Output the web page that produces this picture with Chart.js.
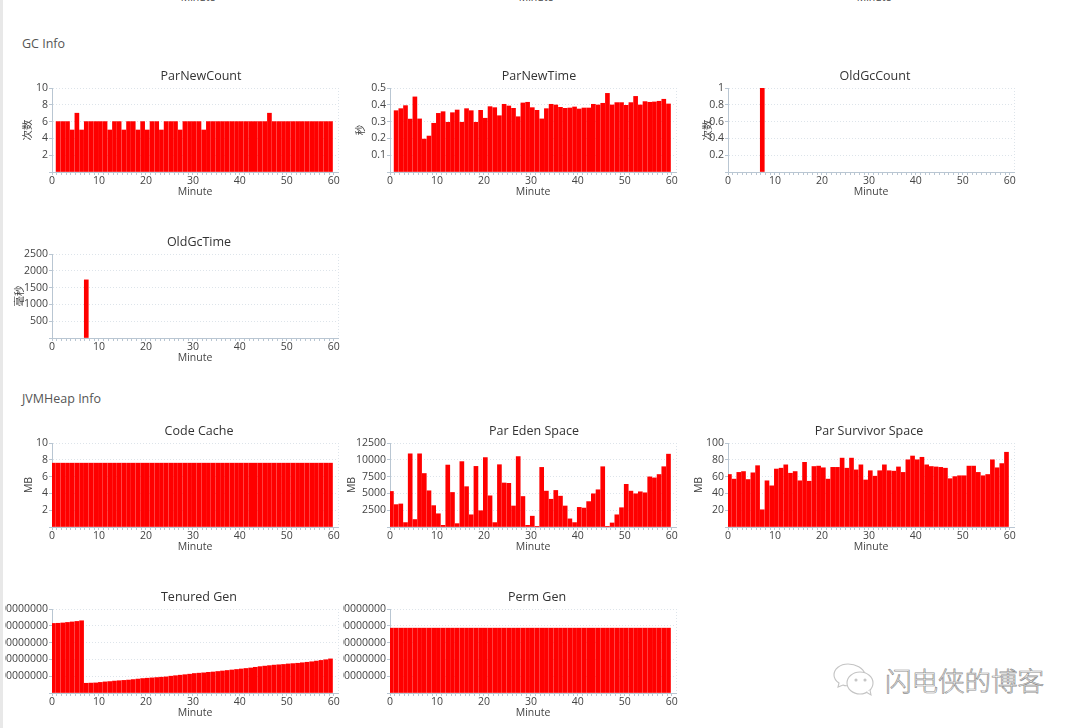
<!DOCTYPE html>
<html>
<head>
<meta charset="utf-8">
<title>GC Info</title>
<script src="https://cdn.jsdelivr.net/npm/chart.js@4"></script>
<style>
  html, body { margin: 0; padding: 0; background: #fff; }
  body { width: 1080px; height: 728px; position: relative; overflow: hidden; font-family: "Open Sans", sans-serif; filter: blur(0.4px); }
  canvas { position: absolute; }
  .edge { position: absolute; left: 0; top: 0; width: 3px; height: 728px; background: #e8e8e8; }
  .section { position: absolute; left: 22px; font-size: 12.5px; color: #555; line-height: 16px; }
  .cut { position: absolute; top: -9px; width: 60px; margin-left: -30px; text-align: center; font-size: 10.5px; line-height: 13px; color: #444; }
  .mark { position: absolute; left: 885px; top: 662px; font: 300 26.5px/36px "Noto Sans CJK SC"; color: #fff; -webkit-text-stroke: 0.7px #8f8f8f; white-space: nowrap; }
  .logo { position: absolute; left: 832px; top: 662px; }
</style>
</head>
<body>
<div class="edge"></div>
<div class="cut" style="left:198px">Minute</div>
<div class="cut" style="left:536px">Minute</div>
<div class="cut" style="left:874px">Minute</div>
<div class="section" style="top:36px">GC Info</div>
<div class="section" style="top:391px">JVMHeap Info</div>
<svg class="logo" width="48" height="36" fill="#fff" stroke="#c4c4c4" stroke-width="1.1">
  <path d="M16 2c-8 0-14 5-14 11 0 3 2 6 5 8l-1 4 5-2c2 1 5 1 8 0 4-8 9-11 14-11-2-6-9-10-17-10z"/>
  <ellipse cx="28" cy="21" rx="13" ry="11"/>
  <path d="M34 30l5 3-1-5"/>
  <circle cx="24" cy="18" r="1" fill="#c4c4c4"/><circle cx="33" cy="18" r="1" fill="#c4c4c4"/>
</svg>
<div class="mark">闪电侠的博客</div>

<script>
const minutes = [0,1,2,3,4,5,6,7,8,9,10,11,12,13,14,15,16,17,18,19,20,21,22,23,24,25,26,27,28,29,30,31,32,33,34,35,36,37,38,39,40,41,42,43,44,45,46,47,48,49,50,51,52,53,54,55,56,57,58,59];
const oldGcMinutes = [7];

const parNewCount = [null,6,6,6,5,7,5,6,6,6,6,6,5,6,6,5,6,6,5,6,5,6,6,5,6,6,6,5,6,6,6,6,5,6,6,6,6,6,6,6,6,6,6,6,6,6,7,6,6,6,6,6,6,6,6,6,6,6,6,6];
const parNewTime = [null,0.365,0.377,0.395,0.315,0.447,0.316,0.196,0.214,0.29,0.349,0.359,0.296,0.353,0.369,0.296,0.377,0.365,0.296,0.367,0.32,0.389,0.383,0.335,0.403,0.393,0.379,0.329,0.411,0.415,0.383,0.367,0.316,0.377,0.403,0.399,0.385,0.379,0.381,0.387,0.375,0.381,0.381,0.403,0.399,0.409,0.468,0.399,0.413,0.413,0.397,0.413,0.45,0.399,0.419,0.415,0.417,0.421,0.433,0.405];
const oldGcCount = [1];
const oldGcTime = [1730];

const codeCache = [7.6,7.6,7.6,7.6,7.6,7.6,7.6,7.6,7.6,7.6,7.6,7.6,7.6,7.6,7.6,7.6,7.6,7.6,7.6,7.6,7.6,7.6,7.6,7.6,7.6,7.6,7.6,7.6,7.6,7.6,7.6,7.6,7.6,7.6,7.6,7.6,7.6,7.6,7.6,7.6,7.6,7.6,7.6,7.6,7.6,7.6,7.6,7.6,7.6,7.6,7.6,7.6,7.6,7.6,7.6,7.6,7.6,7.6,7.6,7.6];
const parEden = [5290,3330,3430,655,10890,1110,10890,7960,5390,3180,1970,250,9220,5140,500,9730,6000,1815,9020,2420,10330,4640,655,9270,6550,6500,3125,10480,4540,250,1610,100,8870,5340,4130,5440,4590,3125,1210,655,2920,2820,3780,4940,5540,8970,30,600,1815,2870,6350,5340,4940,5240,5090,7460,7310,7810,8970,10840];
const parSurvivor = [62.5,57,65,66,56.5,64.5,73,20.5,55,49,69,70,74,64,66,55,77,54.5,72,72.5,70.5,57,71,71,82,70,82,68,74,56,67,60.5,67,74,67,66.5,71.5,65,80,84.5,80,83,74,72,71.5,71,70,57.5,60,61,61,72.5,72.5,65,61,62.5,80,70.5,75.5,89];
const tenuredGen = [414000000,415000000,417000000,420000000,423000000,426000000,430000000,58000000,59000000,60000000,63000000,66000000,68000000,71000000,73000000,75000000,77000000,80000000,83000000,86000000,88000000,90000000,92000000,94000000,96000000,100000000,103000000,106000000,109000000,112000000,116000000,118000000,120000000,123000000,125000000,128000000,131000000,134000000,137000000,140000000,143000000,146000000,149000000,153000000,157000000,160000000,163000000,166000000,168000000,170000000,173000000,175000000,177000000,180000000,183000000,186000000,190000000,194000000,198000000,203000000];
const permGen = [386000000,386000000,386000000,386000000,386000000,386000000,386000000,386000000,386000000,386000000,386000000,386000000,386000000,386000000,386000000,386000000,386000000,386000000,386000000,386000000,386000000,386000000,386000000,386000000,386000000,386000000,386000000,386000000,386000000,386000000,386000000,386000000,386000000,386000000,386000000,386000000,386000000,386000000,386000000,386000000,386000000,386000000,386000000,386000000,386000000,386000000,386000000,386000000,386000000,386000000,386000000,386000000,386000000,386000000,386000000,386000000,386000000,386000000,386000000,386000000];

const panels = [
  { title: "ParNewCount", unit: "次数", xs: minutes, ys: parNewCount, max: 10, step: 2, left: 52, top: 88, titleAt: 201, unitAt: 29 },
  { title: "ParNewTime", unit: "秒", xs: minutes, ys: parNewTime, max: 0.5, step: 0.1, left: 390, top: 88, titleAt: 539, unitAt: 362 },
  { title: "OldGcCount", unit: "次数", xs: oldGcMinutes, ys: oldGcCount, max: 1, step: 0.2, left: 728, top: 88, titleAt: 875, unitAt: 709 },
  { title: "OldGcTime", unit: "毫秒", xs: oldGcMinutes, ys: oldGcTime, max: 2500, step: 500, left: 52, top: 254, titleAt: 199, unitAt: 21 },
  { title: "Code Cache", unit: "MB", xs: minutes, ys: codeCache, max: 10, step: 2, left: 52, top: 443, titleAt: 199, unitAt: 30 },
  { title: "Par Eden Space", unit: "MB", xs: minutes, ys: parEden, max: 12500, step: 2500, left: 390, top: 443, titleAt: 534, unitAt: 353 },
  { title: "Par Survivor Space", unit: "MB", xs: minutes, ys: parSurvivor, max: 100, step: 20, left: 728, top: 443, titleAt: 869, unitAt: 700 },
  { title: "Tenured Gen", unit: null, xs: minutes, ys: tenuredGen, max: 500000000, step: 100000000, left: 52, top: 609, titleAt: 199, unitAt: 13 },
  { title: "Perm Gen", unit: null, xs: minutes, ys: permGen, max: 500000000, step: 100000000, left: 390, top: 609, titleAt: 537, unitAt: 351 },
];

const textColor = "#444";
const axisColor = "#b9c6d2";
const gridColor = "#dde4ea";
const plotWidth = 286;
const minuteMax = 60.9;

panels.forEach((p) => {
  const canvasLeft = p.left - 47;
  const canvasTop = p.top - 26;
  const width = Math.round(2 * (p.titleAt - canvasLeft));
  const height = 138;

  const canvas = document.createElement("canvas");
  canvas.width = width;
  canvas.height = height;
  canvas.style.left = canvasLeft + "px";
  canvas.style.top = canvasTop + "px";
  document.body.appendChild(canvas);

  new Chart(canvas.getContext("2d"), {
    type: "bar",
    data: {
      datasets: [
        {
          data: p.xs.map((m, i) => ({ x: m + 0.3, y: p.ys[i] })),
          backgroundColor: "#ff0000",
          barThickness: 4,
        },
      ],
    },
    options: {
      responsive: false,
      animation: false,
      layout: { padding: 0 },
      plugins: {
        legend: { display: false },
        tooltip: { enabled: false },
        title: {
          display: true,
          text: p.title,
          color: "#333",
          font: { family: "'Open Sans'", size: 12.5, weight: "normal", lineHeight: 1.2 },
          padding: { top: 7, bottom: 4 },
        },
      },
      scales: {
        x: {
          type: "linear",
          offset: false,
          min: 0,
          max: minuteMax,
          afterFit: (s) => { s.height = 28; },
          afterBuildTicks: (s) => { s.ticks.push({ value: minuteMax }); },
          title: {
            display: true,
            text: "Minute",
            color: textColor,
            font: { family: "'Open Sans'", size: 10.5 },
            padding: { top: 0, bottom: 2 },
          },
          border: { color: axisColor, dash: [1, 2] },
          grid: {
            offset: false,
            tickLength: 3,
            color: (ctx) => (ctx.tick && ctx.tick.value > 60 ? gridColor : "transparent"),
            tickColor: (ctx) => (ctx.tick && ctx.tick.value > 60 ? "transparent" : axisColor),
          },
          ticks: {
            stepSize: 1,
            includeBounds: false,
            autoSkip: false,
            maxRotation: 0,
            padding: 0,
            color: textColor,
            font: { family: "'Open Sans'", size: 10.5 },
            callback: (v) => (v % 10 === 0 ? String(v) : ""),
          },
        },
        y: {
          min: 0,
          max: p.max,
          afterFit: (s) => { s.width = p.left - canvasLeft; },
          title: {
            display: !!p.unit,
            text: p.unit || "",
            color: textColor,
            font: { family: "'Open Sans', 'Noto Sans CJK SC'", size: 10.5 },
            padding: { top: p.unitAt - canvasLeft - 7, bottom: 0 },
          },
          border: { color: axisColor, dash: [1, 2] },
          grid: { tickLength: 3, color: gridColor, tickColor: axisColor },
          ticks: {
            stepSize: p.step,
            padding: 1,
            color: textColor,
            font: { family: "'Open Sans'", size: 10.5 },
            callback: (v) => (v === 0 ? "" : String(+v.toFixed(3))),
          },
        },
        // empty box on the right so the plot keeps its width and the title stays centred on the canvas
        spare: {
          position: "right",
          afterFit: (s) => { s.width = width - (p.left - canvasLeft) - plotWidth; },
          border: { display: false },
          grid: { display: false },
          ticks: { display: false },
        },
      },
    },
  });
});
</script>
</body>
</html>
